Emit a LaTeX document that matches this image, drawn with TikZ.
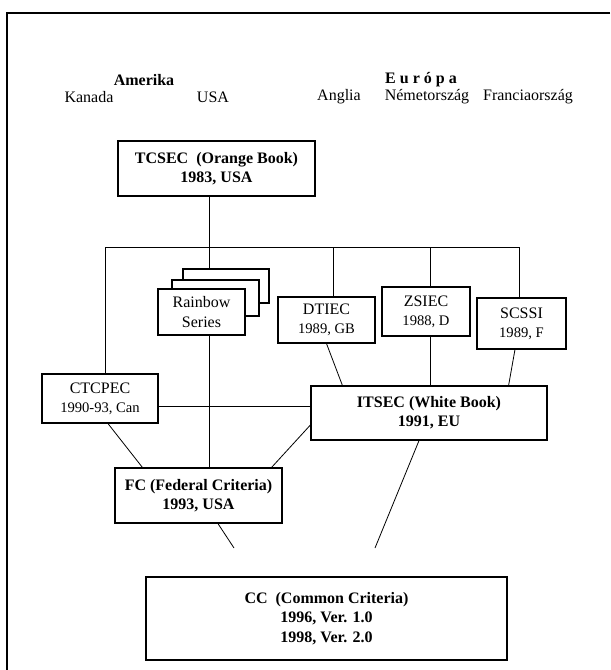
\documentclass[tikz,border=0pt,12pt]{standalone}
\usepackage{fontspec}
\setmainfont{Liberation Serif}
\usetikzlibrary{positioning}

\begin{document}
\begin{tikzpicture}[x=0.75pt,y=-0.75pt,line width=0.6pt,
    box/.style={draw,line width=0.9pt,fill=white,align=center,inner sep=2pt},
    year/.style={font=\small}]
  \useasboundingbox (0,0) rectangle (610,670);

  % frame of the page
  \coordinate (frame ne) at (610,13);
  \coordinate (frame nw) at (7,13);
  \coordinate (frame sw) at (7,670);
  \draw[line width=1.1pt] (frame ne) -- (frame nw) -- (frame sw);

  % continents and countries
  \node[font=\bfseries] (amerika) at (144,80) {Amerika};
  \node[font=\bfseries] (europa) at (421,80) {E u r ó p a};
  \node (kanada) at (89,97) {Kanada};
  \node (usa) at (213,97) {USA};
  \node (anglia) at (339,97) {Anglia};
  \node (nemet) at (427,97) {Németország};
  \node (francia) at (528,97) {Franciaország};

  % boxes
  \node[box,font=\bfseries,minimum width=147.75pt,minimum height=41.25pt] (tcsec) at (216.5,168.5) {TCSEC~ (Orange Book)\\1983, USA};
  \node[box,minimum width=64.5pt,minimum height=25.5pt] (rb3) at (226,286) {};
  \node[box,minimum width=65.25pt,minimum height=27pt] (rb2) at (215.5,298) {};
  \node[box,minimum width=65.25pt,minimum height=34.5pt] (rb1) at (201.5,312) {Rainbow\\Series};
  \node[box,minimum width=72.75pt,minimum height=34.5pt] (dtiec) at (326.5,320) {DTIEC\\{\small 1989, GB}};
  \node[box,minimum width=66pt,minimum height=36.75pt] (zsiec) at (426,311.5) {ZSIEC\\{\small 1988, D}};
  \node[box,minimum width=66.75pt,minimum height=38.25pt] (scssi) at (521.5,323.5) {SCSSI\\{\small 1989, F}};
  \node[box,minimum width=87pt,minimum height=36.75pt] (ctcpec) at (100,398.5) {CTCPEC\\{\small 1990-93, Can}};
  \node[box,font=\bfseries,minimum width=177pt,minimum height=40.5pt] (itsec) at (429,413) {ITSEC (White Book)\\1991, EU};
  \node[box,font=\bfseries,minimum width=125.25pt,minimum height=41.25pt] (fc) at (198.5,495.5) {FC (Federal Criteria)\\1993, USA};
  \node[box,font=\bfseries,minimum width=270.75pt,minimum height=62.25pt] (cc) at (326.5,618.5) {CC~ (Common Criteria)\\1996, Ver. 1.0\\1998, Ver. 2.0};

  % the common line and the lines to it
  \coordinate (bus west) at (105,247);
  \coordinate (bus east) at (519,247);
  \coordinate (tcsec foot) at (209,247);
  \draw (bus west) -- (bus east);
  \draw (tcsec foot |- tcsec.south) -- (tcsec foot |- rb3.north);
  \draw (bus west) -- (bus west |- ctcpec.north);
  \draw ([xshift=5pt]dtiec.north) -- ([xshift=5pt]dtiec.north |- bus west);
  \draw ([xshift=3pt]zsiec.north) -- ([xshift=3pt]zsiec.north |- bus west);
  \draw (bus east) -- (bus east |- scssi.north);

  % lines between the boxes
  \draw (tcsec foot |- rb1.south) -- (tcsec foot |- fc.north);
  \draw ([yshift=-6pt]ctcpec.east) -- ([yshift=-6pt]ctcpec.east -| itsec.west);
  \draw (dtiec.south) -- ([xshift=24pt]itsec.north west);
  \draw ([xshift=3pt]zsiec.south) -- ([xshift=3pt]zsiec.south |- itsec.north);
  \draw ([xshift=-4.9pt]scssi.south) -- ([xshift=-29.25pt]itsec.north east);
  \draw ([xshift=6pt]ctcpec.south) -- ([xshift=21pt]fc.north west);
  \draw ([yshift=-9pt]itsec.west) -- ([xshift=-8.25pt]fc.north east);

  % loose ends towards CC
  \coordinate (fc end) at (234,548);
  \coordinate (itsec end) at (375,548);
  \draw ([xshift=14.6pt]fc.south) -- (fc end);
  \draw ([xshift=-7.5pt]itsec.south) -- (itsec end);
\end{tikzpicture}
\end{document}
